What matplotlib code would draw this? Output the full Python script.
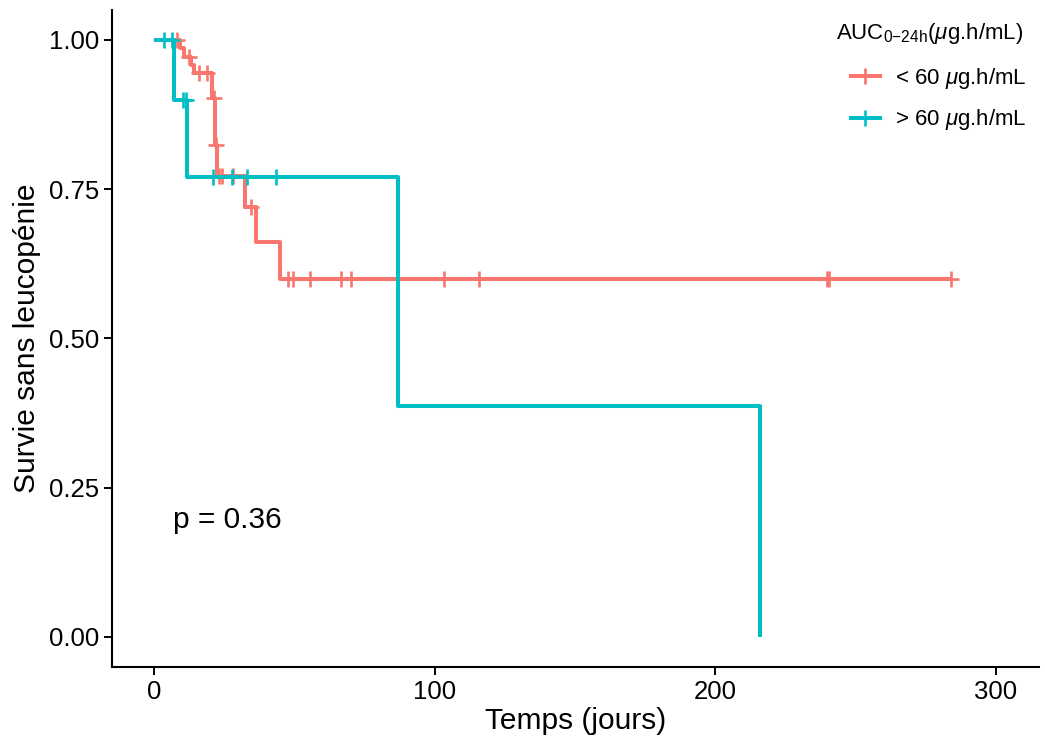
import matplotlib
matplotlib.use("Agg")
import matplotlib.pyplot as plt
import numpy as np

plt.rcParams['font.family'] = ['Liberation Sans', 'DejaVu Sans']
plt.rcParams['mathtext.fontset'] = 'custom'
plt.rcParams['mathtext.rm'] = 'Liberation Sans'
plt.rcParams['mathtext.it'] = 'Liberation Sans:italic'

RED = '#F8766D'
TEAL = '#00BFC4'

# < 60 ug.h/mL : step times and survival after each step
low_times = [0, 9.0, 10.4, 13.1, 14.0, 20.6, 21.7, 22.4, 32.4, 36.4, 44.7]
low_surv = [1.0, 0.986, 0.972, 0.958, 0.944, 0.902, 0.824, 0.772, 0.720, 0.662, 0.600]
low_end = 284.0
low_censor = [8.1, 12.2, 15.8, 18.8, 21.1, 22.0, 22.9, 24.1, 28.2, 34.5,
              47.5, 49.4, 55.4, 66.6, 70.2, 103.4, 115.6, 239.8, 240.6, 284.0]

# > 60 ug.h/mL
high_times = [0, 7.1, 11.8, 87.0, 216.0]
high_surv = [1.0, 0.900, 0.771, 0.386, 0.0]
high_end = 216.0
high_censor = [3.6, 6.4, 10.3, 11.4, 21.0, 27.8, 33.2, 43.5]

x_ticks = [0, 100, 200, 300]
y_ticks = [0.0, 0.25, 0.50, 0.75, 1.00]


def level_at(times, surv, t):
    idx = np.searchsorted(times, t, side='right') - 1
    return surv[idx]


def draw_group(ax, times, surv, end, censor, color, label):
    xs = list(times) + [end]
    ys = list(surv) + [surv[-1]]
    ax.step(xs, ys, where='post', color=color, lw=2.9, solid_capstyle='butt')
    cy = [level_at(times, surv, t) for t in censor]
    ax.plot(censor, cy, linestyle='none', marker='+', color=color,
            markersize=12, markeredgewidth=1.9)
    ax.plot([], [], color=color, lw=2.9, marker='+', markersize=12,
            markeredgewidth=1.9, label=label)


fig = plt.figure(figsize=(10.45, 7.38), dpi=100)
ax = fig.add_axes([0.1075, 0.0966, 0.8868, 0.8898])

draw_group(ax, low_times, low_surv, low_end, low_censor, RED, r'< 60 $\mu$g.h/mL')
draw_group(ax, high_times, high_surv, high_end, high_censor, TEAL, r'> 60 $\mu$g.h/mL')

ax.set_xlim(-15.0, 315.5)
ax.set_ylim(-0.05, 1.05)
ax.set_xticks(x_ticks)
ax.set_yticks(y_ticks)
ax.set_yticklabels([f'{v:.2f}' for v in y_ticks])
ax.tick_params(labelsize=18.5, length=6, width=1.4, colors='black', direction='out')
for side in ['top', 'right']:
    ax.spines[side].set_visible(False)
for side in ['left', 'bottom']:
    ax.spines[side].set_linewidth(1.5)

ax.set_xlabel('Temps (jours)', fontsize=21.5, labelpad=2)
ax.set_ylabel('Survie sans leucopénie', fontsize=21.5, labelpad=6)

ax.text(6.5, 0.196, 'p = 0.36', fontsize=21.5, ha='left', va='center')

# legend title sits a bit left of the keys, as in ggplot
fig.text(836 / 1045, 1 - 33 / 738, r'AUC$_{\mathrm{0{-}24h}}$($\mu$g.h/mL)',
         fontsize=16, ha='left', va='center')
leg = fig.legend(loc='upper left', bbox_to_anchor=(0.795, 0.938),
                 frameon=False, fontsize=16,
                 handlelength=1.3, handletextpad=0.7, labelspacing=0.75)

fig.savefig('out.png', dpi=100)
